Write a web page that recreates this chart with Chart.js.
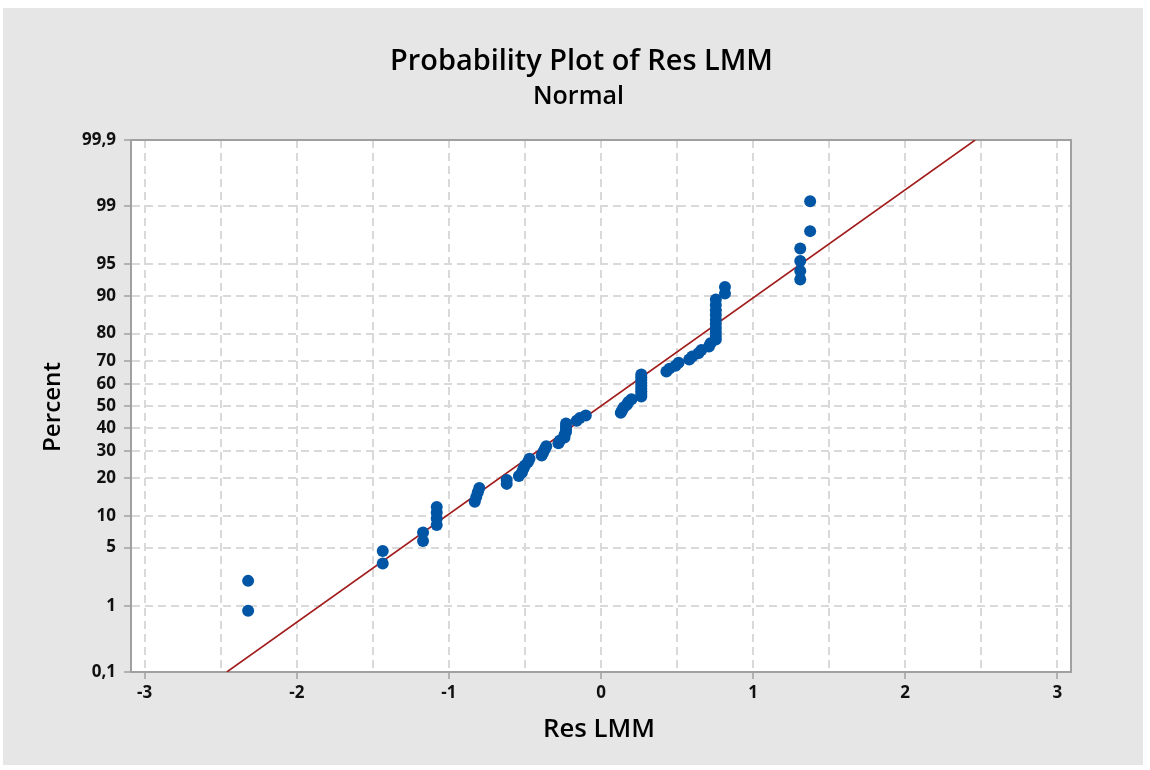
<!DOCTYPE html>
<html>
<head>
<meta charset="utf-8">
<script src="https://cdn.jsdelivr.net/npm/chart.js@4.4.1/dist/chart.umd.min.js"></script>
<style>
  html, body { margin: 0; padding: 0; background: #fff; }
  #panel { position: absolute; left: 3px; top: 8px; width: 1140px; height: 757px; background: #e6e6e6; }
  #wrap { position: absolute; left: 0; top: 0; width: 1150px; height: 770px; }
</style>
</head>
<body>
<div id="panel"></div>
<div id="wrap"><canvas id="probPlot" width="1150" height="770"></canvas></div>
<script>
// residuals (x) and plotted percent (y), in rank order
const resValues = [
  -2.32, -2.32, -1.435, -1.435, -1.17, -1.17, -1.08, -1.08, -1.08, -1.08,
  -0.83, -0.82, -0.81, -0.80, -0.62, -0.62, -0.54, -0.52, -0.51, -0.50,
  -0.48, -0.47, -0.39, -0.38, -0.37, -0.36, -0.28, -0.27, -0.24, -0.24,
  -0.23, -0.23, -0.23, -0.23, -0.16, -0.14, -0.10, 0.13, 0.14, 0.15,
  0.17, 0.18, 0.20, 0.265, 0.265, 0.265, 0.265, 0.265, 0.265, 0.265,
  0.265, 0.265, 0.43, 0.45, 0.49, 0.51, 0.58, 0.60, 0.64, 0.66,
  0.71, 0.72, 0.755, 0.755, 0.755, 0.755, 0.755, 0.755, 0.755, 0.755,
  0.755, 0.755, 0.815, 0.815, 1.31, 1.31, 1.31, 1.31, 1.375, 1.375
];
const percentValues = [
  0.87, 2.11, 3.36, 4.60, 5.85, 7.09, 8.33, 9.58, 10.82, 12.06,
  13.31, 14.55, 15.80, 17.04, 18.28, 19.53, 20.77, 22.01, 23.26, 24.50,
  25.75, 26.99, 28.23, 29.48, 30.72, 31.97, 33.21, 34.45, 35.70, 36.94,
  38.18, 39.43, 40.67, 41.92, 43.16, 44.40, 45.65, 46.89, 48.13, 49.38,
  50.62, 51.87, 53.11, 54.35, 55.60, 56.84, 58.08, 59.33, 60.57, 61.82,
  63.06, 64.30, 65.55, 66.79, 68.03, 69.28, 70.52, 71.77, 73.01, 74.25,
  75.50, 76.74, 77.99, 79.23, 80.47, 81.72, 82.96, 84.20, 85.45, 86.69,
  87.94, 89.18, 90.42, 91.67, 92.91, 94.15, 95.40, 96.64, 97.89, 99.13
];

// fitted normal line, two ends
const fitRes = [-2.46, 2.46];
const fitPercent = [0.1, 99.9];

const yTickPercent = [0.1, 1, 5, 10, 20, 30, 40, 50, 60, 70, 80, 90, 95, 99, 99.9];
const yTickLabels = ["0,1", "1", "5", "10", "20", "30", "40", "50", "60", "70", "80", "90", "95", "99", "99,9"];
const xGridValues = [-3, -2.5, -2, -1.5, -1, -0.5, 0, 0.5, 1, 1.5, 2, 2.5, 3];

// inverse normal cdf (Acklam)
function probit(p) {
  const a = [-3.969683028665376e+01, 2.209460984245205e+02, -2.759285104469687e+02, 1.383577518672690e+02, -3.066479806614716e+01, 2.506628277459239e+00];
  const b = [-5.447609879822406e+01, 1.615858368580409e+02, -1.556989798598866e+02, 6.680131188771972e+01, -1.328068155288572e+01];
  const c = [-7.784894002430293e-03, -3.223964580411365e-01, -2.400758277161838e+00, -2.549732539343734e+00, 4.374664141464968e+00, 2.938163982698783e+00];
  const d = [7.784695709041462e-03, 3.224671290700398e-01, 2.445134137142996e+00, 3.754408661907416e+00];
  const pl = 0.02425;
  let q, r;
  if (p < pl) {
    q = Math.sqrt(-2 * Math.log(p));
    return (((((c[0]*q+c[1])*q+c[2])*q+c[3])*q+c[4])*q+c[5]) / ((((d[0]*q+d[1])*q+d[2])*q+d[3])*q+1);
  }
  if (p > 1 - pl) {
    q = Math.sqrt(-2 * Math.log(1 - p));
    return -(((((c[0]*q+c[1])*q+c[2])*q+c[3])*q+c[4])*q+c[5]) / ((((d[0]*q+d[1])*q+d[2])*q+d[3])*q+1);
  }
  q = p - 0.5; r = q * q;
  return (((((a[0]*r+a[1])*r+a[2])*r+a[3])*r+a[4])*r+a[5])*q / (((((b[0]*r+b[1])*r+b[2])*r+b[3])*r+b[4])*r+1);
}

const zLo = probit(0.001);
const zHi = probit(0.999);

const points = resValues.map((x, i) => ({ x: x, y: probit(percentValues[i] / 100) }));
const fitLine = fitRes.map((x, i) => ({ x: x, y: probit(fitPercent[i] / 100) }));

const FRAME = "#a0a0a0";
const GRID = "#d9d9d9";
const FONT = '"Open Sans", "Noto Sans", sans-serif';

function fitSize(ctx, text, weight, width) {
  ctx.font = weight + " 100px " + FONT;
  return 100 * width / ctx.measureText(text).width;
}

const textPlugin = {
  id: "texts",
  beforeDraw(chart) {
    const { ctx, chartArea: a } = chart;
    ctx.save();
    ctx.fillStyle = "#ffffff";
    ctx.fillRect(a.left, a.top, a.right - a.left, a.bottom - a.top);
    ctx.restore();
  },
  beforeDatasetsDraw(chart) {
    const { ctx, chartArea: a } = chart;
    ctx.save();
    ctx.strokeStyle = FRAME;
    ctx.lineWidth = 2;
    ctx.strokeRect(a.left, a.top, a.right - a.left, a.bottom - a.top);
    ctx.restore();
  },
  afterDraw(chart) {
    const ctx = chart.ctx;
    ctx.save();
    ctx.fillStyle = "#000";
    ctx.textAlign = "center";
    ctx.textBaseline = "alphabetic";
    let s = fitSize(ctx, "Probability Plot of Res LMM", "600", 383);
    ctx.font = "600 " + s + "px " + FONT;
    ctx.fillText("Probability Plot of Res LMM", 581.5, 70);
    s = fitSize(ctx, "Normal", "600", 91);
    ctx.font = "600 " + s + "px " + FONT;
    ctx.fillText("Normal", 578.5, 104);
    s = fitSize(ctx, "Res LMM", "600", 112);
    ctx.font = "600 " + s + "px " + FONT;
    ctx.fillText("Res LMM", 599, 737);
    s = fitSize(ctx, "Percent", "600", 90);
    ctx.font = "600 " + s + "px " + FONT;
    ctx.translate(60, 407);
    ctx.rotate(-Math.PI / 2);
    ctx.fillText("Percent", 0, 0);
    ctx.restore();
  }
};

new Chart(document.getElementById("probPlot"), {
  type: "scatter",
  data: {
    datasets: [
      {
        label: "Res LMM",
        data: points,
        backgroundColor: "#0055a5",
        borderColor: "#0055a5",
        pointRadius: 6,
        pointBorderWidth: 0,
        order: 1
      },
      {
        label: "Fit",
        data: fitLine,
        showLine: true,
        borderColor: "#a21c1c",
        borderWidth: 1.6,
        pointRadius: 0,
        order: 2
      }
    ]
  },
  options: {
    responsive: false,
    animation: false,
    layout: { padding: { left: 0, right: 79, top: 140, bottom: 0 } },
    plugins: { legend: { display: false }, tooltip: { enabled: false }, title: { display: false } },
    scales: {
      x: {
        type: "linear",
        min: -3.09,
        max: 3.09,
        afterBuildTicks: (s) => { s.ticks = xGridValues.map((v) => ({ value: v })); },
        afterFit: (s) => { s.height = 98; },
        grid: {
          color: GRID,
          lineWidth: 2,
          tickLength: 7,
          tickWidth: 1.5,
          tickColor: (c) => (c.tick && Number.isInteger(c.tick.value) ? FRAME : "rgba(0,0,0,0)")
        },
        border: { display: true, color: FRAME, width: 2, dash: [8, 5] },
        ticks: {
          autoSkip: false,
          maxRotation: 0,
          padding: 4,
          color: "#111",
          font: { family: FONT, size: 17, weight: "bold" },
          callback: (v) => (Number.isInteger(v) ? String(v) : "")
        }
      },
      y: {
        type: "linear",
        min: zLo,
        max: zHi,
        afterBuildTicks: (s) => { s.ticks = yTickPercent.map((p) => ({ value: probit(p / 100) })); },
        afterFit: (s) => { s.width = 131; },
        grid: {
          color: GRID,
          lineWidth: 2,
          tickLength: 7,
          tickWidth: 1.5,
          tickColor: FRAME
        },
        border: { display: true, color: FRAME, width: 2, dash: [8, 5] },
        ticks: {
          autoSkip: false,
          padding: 8,
          color: "#111",
          font: { family: FONT, size: 17, weight: "bold" },
          callback: (v, i) => yTickLabels[i]
        }
      }
    }
  },
  plugins: [textPlugin]
});
</script>
</body>
</html>
